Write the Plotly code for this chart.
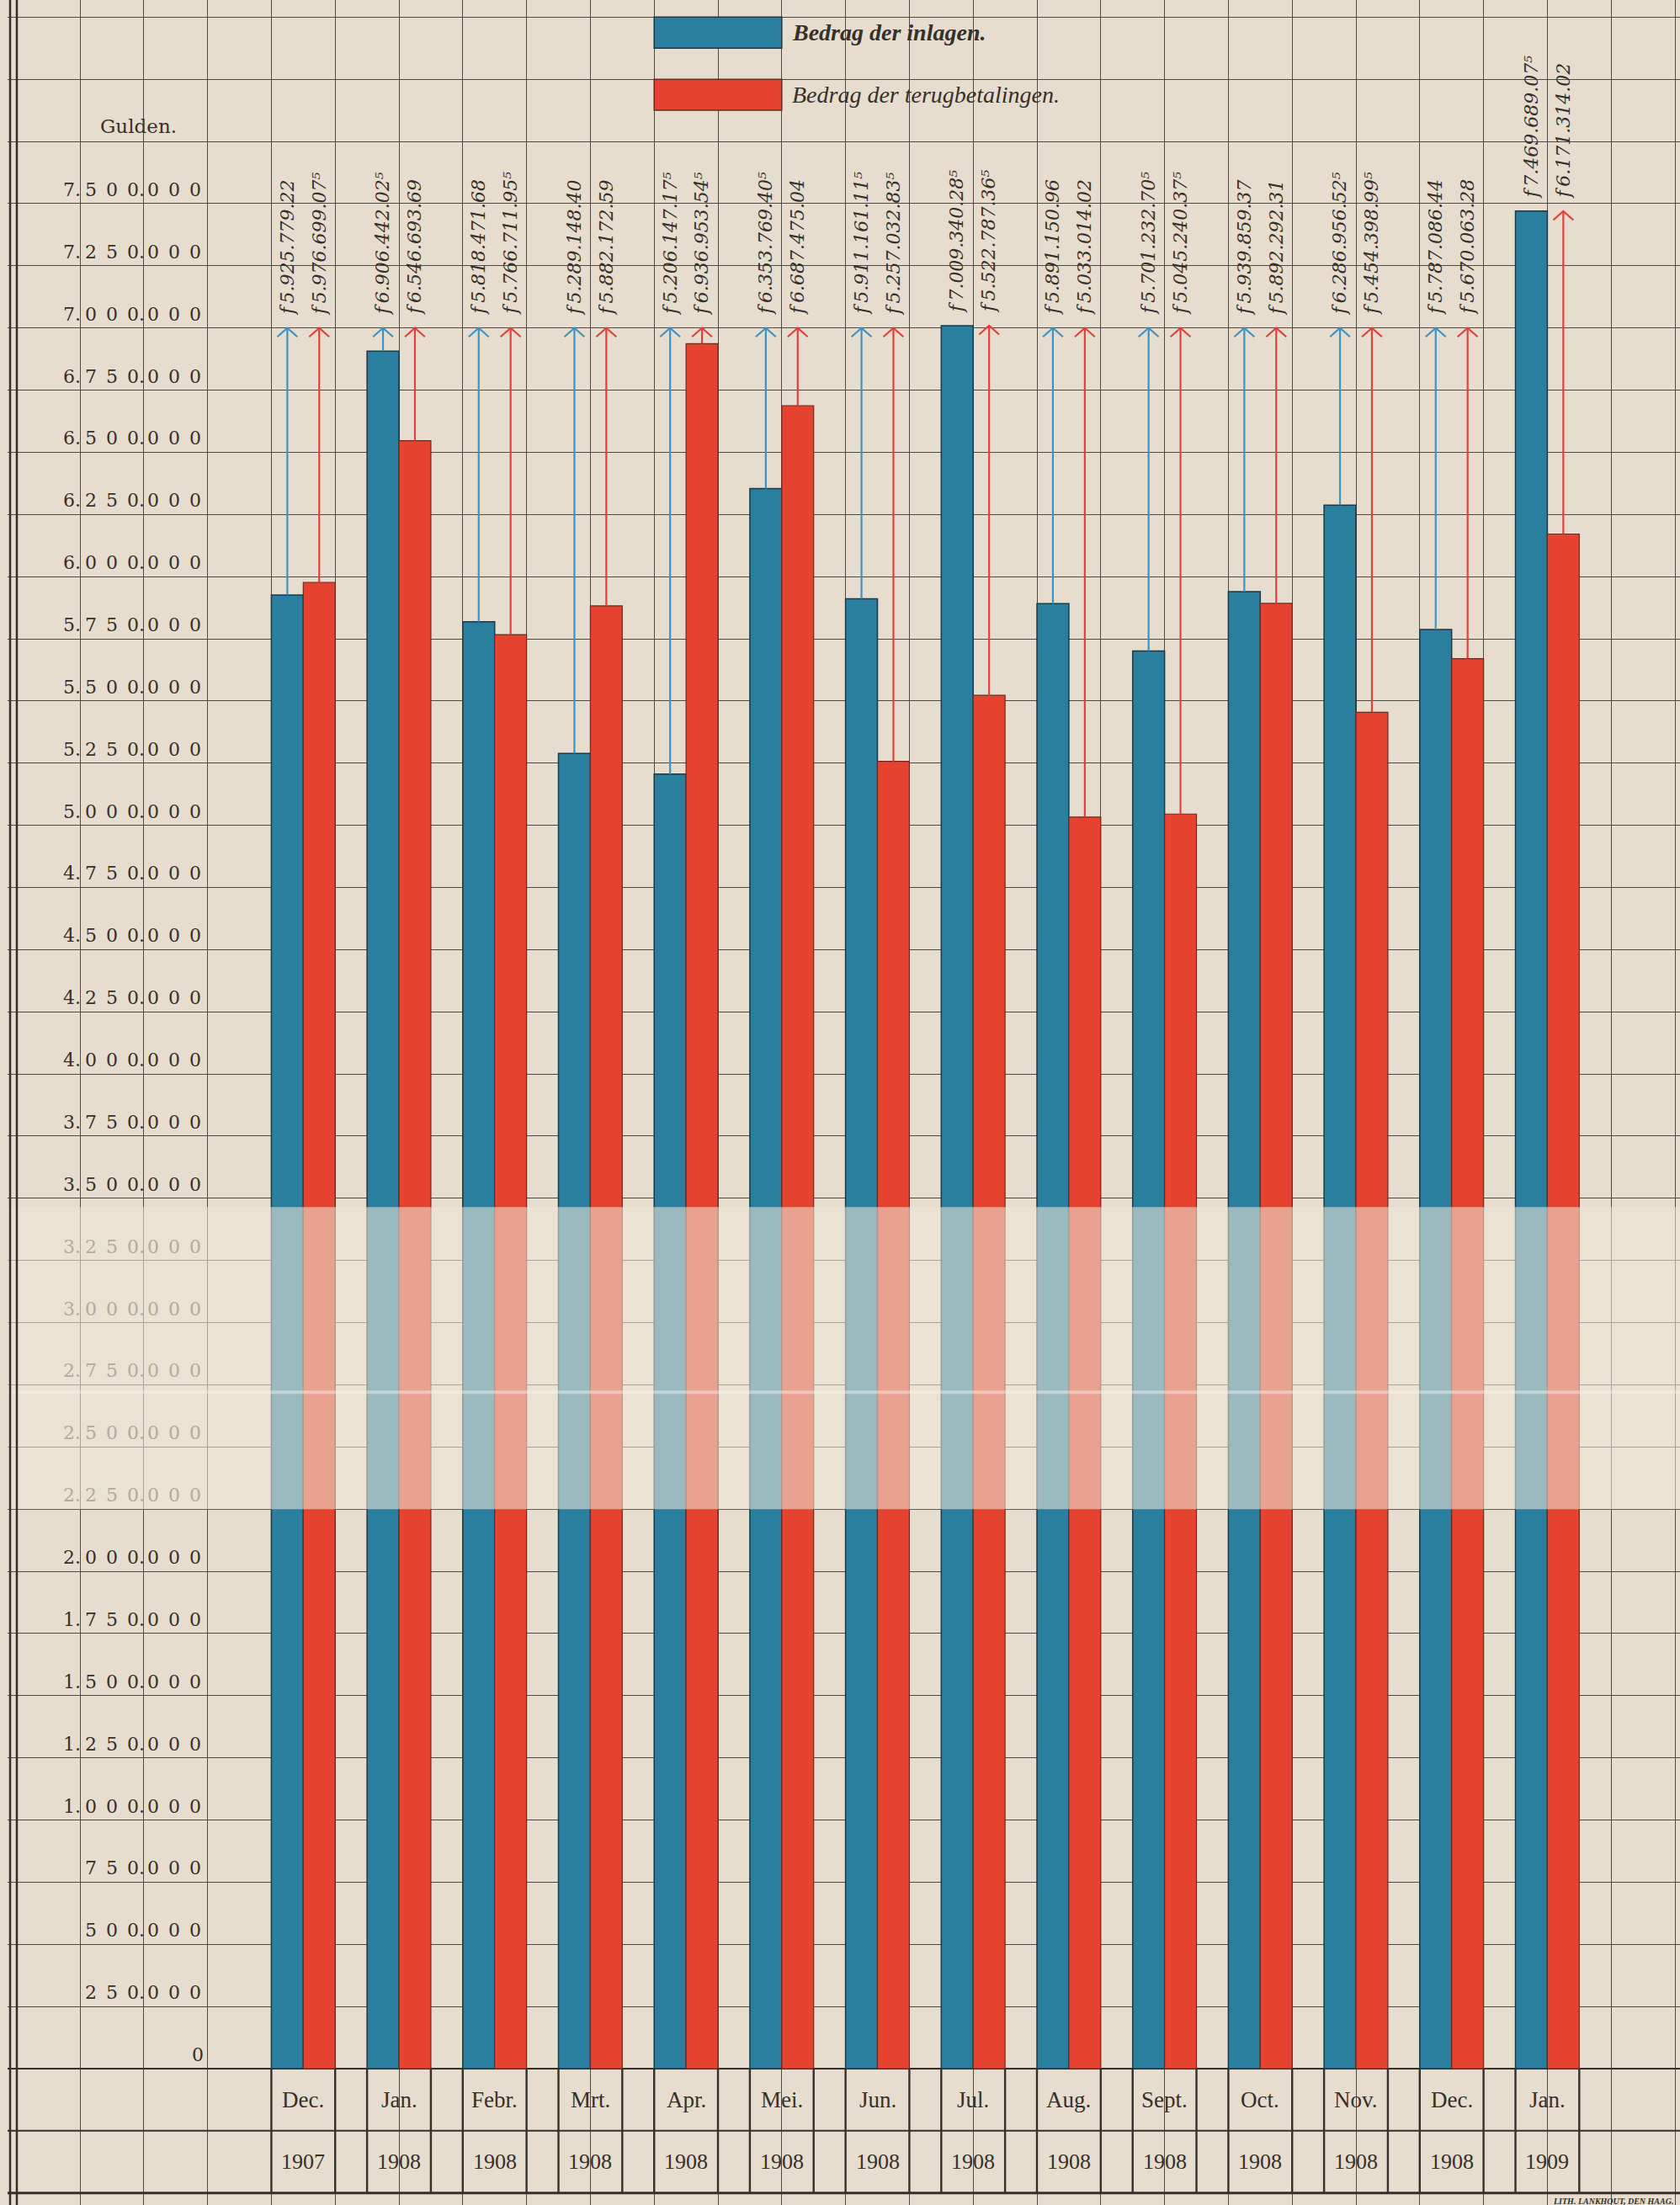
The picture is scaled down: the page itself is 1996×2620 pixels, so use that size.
import plotly.graph_objects as go

# ---------------- data ----------------
months = ["Dec.", "Jan.", "Febr.", "Mrt.", "Apr.", "Mei.", "Jun.",
          "Jul.", "Aug.", "Sept.", "Oct.", "Nov.", "Dec.", "Jan."]
years = ["1907", "1908", "1908", "1908", "1908", "1908", "1908",
         "1908", "1908", "1908", "1908", "1908", "1908", "1909"]
inlagen = [5925779.22, 6906442.025, 5818471.68, 5289148.40, 5206147.175,
           6353769.405, 5911161.115, 7009340.285, 5891150.96, 5701232.705,
           5939859.37, 6286956.525, 5787086.44, 7469689.075]
terugbetalingen = [5976699.075, 6546693.69, 5766711.955, 5882172.59, 6936953.545,
                   6687475.04, 5257032.835, 5522787.365, 5033014.02, 5045240.375,
                   5892292.31, 5454398.995, 5670063.28, 6171314.02]
y_tick_values = [0, 250000, 500000, 750000, 1000000, 1250000, 1500000, 1750000,
                 2000000, 2250000, 2500000, 2750000, 3000000, 3250000, 3500000,
                 3750000, 4000000, 4250000, 4500000, 4750000, 5000000, 5250000,
                 5500000, 5750000, 6000000, 6250000, 6500000, 6750000, 7000000,
                 7250000, 7500000]
series_names = ["Bedrag der inlagen.", "Bedrag der terugbetalingen."]
unit_title = "Gulden."
printer = "LITH. LANKHOUT, DEN HAAG."

# ---------------- style ----------------
W, H = 1996, 2620
PAPER = "#e7ddce"
GRID = "#4f4943"
INK = "#35302b"
FADED_INK = "#b3ab9c"
BLUE = "#2a7f9e"
RED = "#e5432f"
BLUE_EDGE = "#1c3947"
RED_EDGE = "#6e2a20"
ARROW_BLUE = "#3e93c2"
ARROW_RED = "#e4403a"
SERIF = "DejaVu Serif"
TIMES = "Liberation Serif"
X_RANGE = [-3.1689, 14.386]
Y_RANGE = [-548260, 8318700]
ARROW_LEVEL = 7000000           # standard height of the pointer arrows
HEAD_DX, HEAD_DY = 0.105, 36000  # half width / height of the arrow chevrons
FADE_BAND = (2250000, 3465000)   # faded strip of the old sheet
LINE_A, LINE_B, LINE_C = -7 / 3, -5 / 3, -1.0   # grid lines of the label columns
SP = "\u2002"
SUPERSCRIPT = str.maketrans("0123456789", "\u2070\u00b9\u00b2\u00b3\u2074\u2075\u2076\u2077\u2078\u2079")

x_idx = list(range(len(months)))


def guilder(v):
    mills = int(round(v * 1000))
    whole, frac = divmod(mills, 1000)
    txt = "f\u2009" + f"{whole:,}".replace(",", ".") + f".{frac // 10:02d}"
    if frac % 10:
        txt += str(frac % 10).translate(SUPERSCRIPT)
    return txt


fig = go.Figure()
fig.add_trace(go.Bar(x=x_idx, y=inlagen, name=series_names[0],
                     marker=dict(color=BLUE, line=dict(color=BLUE_EDGE, width=1.5)),
                     showlegend=False))
fig.add_trace(go.Bar(x=x_idx, y=terugbetalingen, name=series_names[1],
                     marker=dict(color=RED, line=dict(color=RED_EDGE, width=1.2)),
                     showlegend=False))

ann = []
shapes = []

# pointer arrows (shaft + chevron) and value labels
for vals, off, acol, nm in ((inlagen, -1 / 6, ARROW_BLUE, series_names[0]),
                            (terugbetalingen, 1 / 6, ARROW_RED, series_names[1])):
    xs, ys = [], []
    for i in x_idx:
        tip = max(ARROW_LEVEL, inlagen[i], terugbetalingen[i])
        v = vals[i]
        xc = i + off
        if tip - v > 15000:
            xs += [xc, xc, None, xc - HEAD_DX, xc, xc + HEAD_DX, None]
            ys += [v, tip, None, tip - HEAD_DY, tip, tip - HEAD_DY, None]
        ann.append(dict(x=xc, y=tip, xref="x", yref="y", text=guilder(v),
                        showarrow=False, textangle=-90, xanchor="center",
                        yanchor="bottom", yshift=13,
                        font=dict(family=SERIF, size=22, color=INK, style="italic")))
    fig.add_trace(go.Scatter(x=xs, y=ys, mode="lines", name=nm, hoverinfo="skip",
                             line=dict(color=acol, width=2.2), showlegend=False))

# y-axis labels written in the left columns
for v in y_tick_values:
    col = FADED_INK if FADE_BAND[0] <= v < FADE_BAND[1] else INK
    f = dict(family=SERIF, size=22, color=col)
    if v == 0:
        ann.append(dict(x=LINE_C, y=v, xref="x", yref="y", text="0", showarrow=False,
                        xanchor="right", yanchor="bottom", xshift=-3, yshift=2, font=f))
        continue
    m, rest = divmod(v, 1000000)
    t, u = divmod(rest, 1000)
    if m:
        ann.append(dict(x=LINE_A, y=v, xref="x", yref="y", text=f"{m}.", showarrow=False,
                        xanchor="right", yanchor="bottom", xshift=3, yshift=2, font=f))
    ann.append(dict(x=LINE_B, y=v, xref="x", yref="y", text=SP.join(f"{t:03d}") + ".",
                    showarrow=False, xanchor="right", yanchor="bottom", xshift=3,
                    yshift=2, font=f))
    ann.append(dict(x=LINE_C, y=v, xref="x", yref="y", text=SP.join(f"{u:03d}"),
                    showarrow=False, xanchor="right", yanchor="bottom", xshift=-6,
                    yshift=2, font=f))

ann.append(dict(x=LINE_B, y=7750000, xref="x", yref="y", text=unit_title, showarrow=False,
                xanchor="center", yanchor="bottom", xshift=-6, yshift=3,
                font=dict(family=SERIF, size=23, color=INK)))

# month / year boxes
for i in x_idx:
    ann.append(dict(x=i, y=-125000, xref="x", yref="y", text=months[i], showarrow=False,
                    font=dict(family=TIMES, size=27, color=INK)))
    ann.append(dict(x=i, y=-375000, xref="x", yref="y", text=years[i], showarrow=False,
                    font=dict(family=TIMES, size=26, color=INK)))
    for edge in (i - 1 / 3, i + 1 / 3):
        shapes.append(dict(type="line", xref="x", yref="y", x0=edge, x1=edge,
                           y0=0, y1=-500000, line=dict(color=INK, width=2.4)))
for yy, wd in ((-250000, 2.0), (-500000, 3.0)):
    shapes.append(dict(type="line", xref="paper", yref="y", x0=0, x1=1, y0=yy, y1=yy,
                       line=dict(color=INK, width=wd)))

# legend swatches and texts
legend_rows = [(BLUE, BLUE_EDGE, 8250000, 8125000, "<b>" + series_names[0] + "</b>"),
               (RED, RED_EDGE, 8000000, 7875000, series_names[1])]
for fill, edge, ytop, ybot, label in legend_rows:
    shapes.append(dict(type="rect", xref="x", yref="y", x0=11 / 3, x1=5.0, y0=ybot, y1=ytop,
                       fillcolor=fill, line=dict(color=edge, width=1.5), layer="above"))
    ann.append(dict(x=5.0, y=(ytop + ybot) / 2, xref="x", yref="y", text=label,
                    showarrow=False, xanchor="left", yanchor="middle", xshift=10,
                    font=dict(family=TIMES, size=28, color=INK, style="italic")))

# faded strip and crease of the old sheet
shapes.append(dict(type="rect", xref="paper", yref="y", x0=0, x1=1,
                   y0=FADE_BAND[0], y1=FADE_BAND[1], fillcolor="rgba(236,230,216,0.58)",
                   line=dict(width=0), layer="above"))
shapes.append(dict(type="line", xref="paper", yref="y", x0=0, x1=1, y0=2720000, y1=2720000,
                   line=dict(color="rgba(246,243,232,0.45)", width=4), layer="above"))

# left border (double line)
shapes.append(dict(type="rect", xref="paper", yref="paper", x0=0, x1=9 / W, y0=0, y1=1,
                   fillcolor=PAPER, line=dict(width=0), layer="above"))
for px, wd in ((12, 2.5), (20, 2.5)):
    shapes.append(dict(type="line", xref="paper", yref="paper", x0=px / W, x1=px / W,
                       y0=0, y1=1, line=dict(color=INK, width=wd), layer="above"))

ann.append(dict(x=1, y=-500000, xref="paper", yref="y", text=printer, showarrow=False,
                xanchor="right", yanchor="top", xshift=-6, yshift=-2,
                font=dict(family=TIMES, size=10, color=INK, style="italic", weight="bold")))

fig.update_layout(
    width=W, height=H, autosize=False,
    margin=dict(l=0, r=0, t=0, b=0, pad=0),
    paper_bgcolor=PAPER, plot_bgcolor=PAPER,
    barmode="group", bargap=1 / 3, bargroupgap=0,
    showlegend=False,
    annotations=ann, shapes=shapes,
    xaxis=dict(range=X_RANGE, showgrid=True, tick0=-1 / 3, dtick=2 / 3,
               gridcolor=GRID, gridwidth=1.3, zeroline=False,
               showticklabels=False, ticks="", showline=False, fixedrange=True),
    yaxis=dict(range=Y_RANGE, showgrid=True, tick0=0, dtick=250000,
               gridcolor=GRID, gridwidth=1.3, zeroline=True, zerolinecolor=INK,
               zerolinewidth=2.4, showticklabels=False, ticks="", showline=False,
               fixedrange=True),
)

fig.write_html("out.html", config={"displayModeBar": False},
               post_script="document.body.style.margin='0px';")
